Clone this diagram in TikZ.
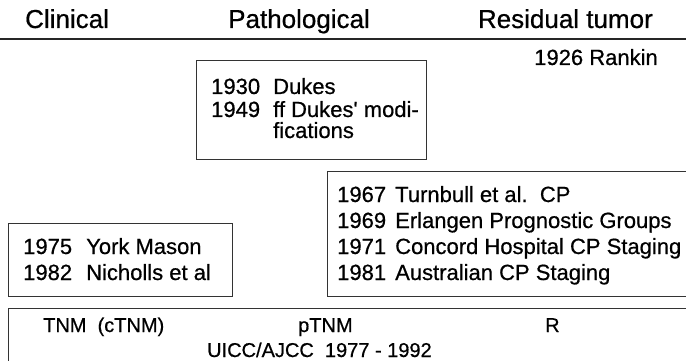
\documentclass[tikz,border=0pt]{standalone}
\usepackage{fontspec}
\setmainfont{Liberation Sans}
\newfontfamily\scanfont{Liberation Sans}[FakeBold=0.6, Ligatures={NoCommon}]
\usetikzlibrary{positioning}

\tikzset{
  head/.style={anchor=base west, inner sep=0pt, font=\scanfont\fontsize{26}{30}\selectfont},
  entry/.style={anchor=base west, inner sep=0pt, font=\scanfont\fontsize{22}{26}\selectfont},
  tnm/.style={anchor=base west, inner sep=0pt, font=\scanfont\fontsize{20}{24}\selectfont},
  frame/.style={draw=black!80, line width=0.9pt},
}

\begin{document}
\begin{tikzpicture}[x=1pt, y=-1pt]
  \useasboundingbox (0,0) rectangle (686,361);

  % Column heads
  \node[head] (clin) at (25,28) {Clinical};
  \node[head] (path) at (228,28) {Pathological};
  \node[head, anchor=base east] (resid) at (653,28) {Residual tumor};
  \draw[line width=1.2pt, black!85] (0,39) -- (686,39);

  % Rankin
  \node[entry, anchor=base east] (rankin) at (658,65) {1926 Rankin};

  % Dukes box
  \draw[frame] (196,60) rectangle (426,159);
  \node[entry] (y1930) at (211,94) {1930};
  \node[entry] (dukes) at (273,94) {Dukes};
  \node[entry] (y1949) at (211,117) {1949};
  % base sits on the last line here
  \node[entry, align=left, font=\scanfont\fontsize{22}{21}\selectfont]
    (dukesmod) at (273,138) {ff Dukes\textquotesingle\ modi-\\fications};

  % CP box (open to the right)
  \draw[frame] (700,171) -- (327,171) -- (327,296) -- (700,296);
  \node[entry] (y1967) at (337,202) {1967};
  \node[entry] (turn) at (395,202) {Turnbull et al.\ \ CP};
  \node[entry] (y1969) at (337,228) {1969};
  \node[entry] (erl) at (395,228) {Erlangen Prognostic Groups};
  \node[entry] (y1971) at (337,254) {1971};
  \node[entry] (conc) at (395,254) {Concord Hospital CP Staging};
  \node[entry] (y1981) at (337,280) {1981};
  \node[entry] (aus) at (395,280) {Australian CP Staging};

  % York Mason box
  \draw[frame] (8,223) rectangle (232,296);
  \node[entry] (y1975) at (23,254) {1975};
  \node[entry] (york) at (86,254) {York Mason};
  \node[entry] (y1982) at (23,280) {1982};
  \node[entry] (nich) at (86,280) {Nicholls et al};

  % TNM box (open to the right and below)
  \draw[frame] (8,370) -- (8,308) -- (700,308);
  \node[tnm] (ctnm) at (43,332) {TNM\ \ (cTNM)};
  \node[tnm] (ptnm) at (298,332) {pTNM};
  \node[tnm] (rcls) at (545,332) {R};
  \node[tnm] (uicc) at (207,357) {UICC/AJCC\ \ 1977 - 1992};
\end{tikzpicture}
\end{document}
